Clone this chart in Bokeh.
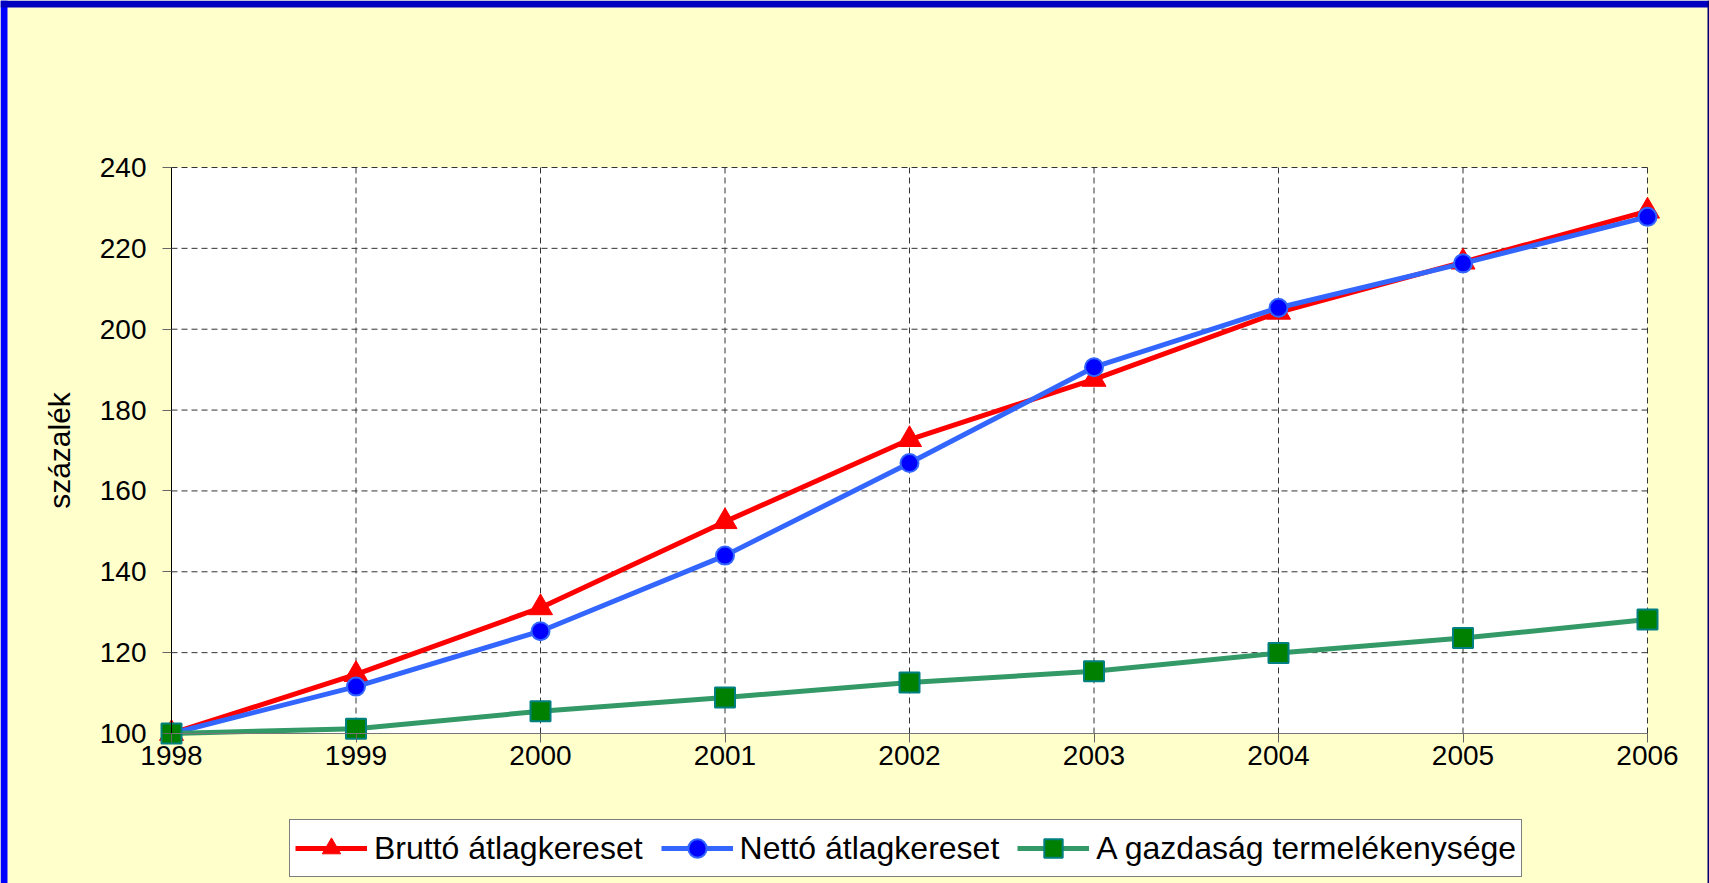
import math
from bokeh.plotting import figure
from bokeh.models import Legend, LegendItem, FixedTicker, Range1d, LinearAxis, BoxAnnotation, Label
from bokeh.embed import file_html
from bokeh.resources import INLINE

years = [1998, 1999, 2000, 2001, 2002, 2003, 2004, 2005, 2006]
brutto = [100, 114.6, 131.1, 152.4, 172.7, 187.6, 204.2, 216.6, 229.2]
netto = [100, 111.6, 125.3, 144.0, 166.9, 190.6, 205.3, 216.3, 227.8]
termelekenyseg = [100, 101.2, 105.5, 108.9, 112.6, 115.4, 119.9, 123.6, 128.2]
series_names = ["Bruttó átlagkereset", "Nettó átlagkereset", "A gazdaság termelékenysége"]
y_ticks = [100, 120, 140, 160, 180, 200, 220, 240]
y_label = "százalék"

FONT = "Liberation Sans"
BG = "#FFFFCC"

# layout in canvas pixels; the frame covers the whole canvas so nothing is clipped
W, H = 1709, 883
TOP, PLOT_BOTTOM, LEFT, RIGHT = 167, 733, 171, 1647
x0, x1 = years[0], years[-1]
y0, y1 = y_ticks[0], y_ticks[-1]
pxx = (RIGHT - LEFT) / (x1 - x0)
pxy = (PLOT_BOTTOM - TOP) / (y1 - y0)
x_start, x_end = x0 - LEFT / pxx, x1 + (W - RIGHT) / pxx
y_start, y_end = y0 - (H - PLOT_BOTTOM) / pxy, y1 + TOP / pxy

styles = [
    dict(line_color="#FF0000", marker="triangle", size=24, fill_color="#FF0000", mline="#FF0000", mlw=1),
    dict(line_color="#3366FF", marker="circle", size=18, fill_color="#0000FF", mline="#3366FF", mlw=2),
    dict(line_color="#339966", marker="square", size=20, fill_color="#008000", mline="#008080", mlw=2),
]

p = figure(width=W, height=H, output_backend="svg", toolbar_location=None,
           x_range=Range1d(x_start, x_end), y_range=Range1d(y_start, y_end),
           x_axis_location=None, y_axis_location=None,
           min_border_left=0, min_border_right=0, min_border_top=0, min_border_bottom=0)
p.border_fill_color = BG
p.background_fill_color = BG
p.outline_line_color = None
p.grid.visible = False

# white plot area
p.add_layout(BoxAnnotation(left=x0, right=x1, bottom=y0, top=y1,
                           fill_color="white", fill_alpha=1, line_color=None, level="underlay"))

# slide frame (blue edges)
p.add_layout(BoxAnnotation(left=x_start, right=x_start + 7 / pxx, bottom=y_start, top=y_end,
                           fill_color="#0000FF", fill_alpha=1, line_color=None))
p.add_layout(BoxAnnotation(left=x_start, right=x_end, bottom=y_end - 7 / pxy, top=y_end,
                           fill_color="#0000C0", fill_alpha=1, line_color=None))
p.add_layout(BoxAnnotation(left=x_end - 2 / pxx, right=x_end, bottom=y_start, top=y_end,
                           fill_color="#000070", fill_alpha=1, line_color=None))

# dashed grid lines limited to the plot area
grid_kw = dict(line_color="#333333", line_dash="6 4", line_width=1)
p.segment(x0=years, y0=[y0] * len(years), x1=years, y1=[y1] * len(years), **grid_kw)
p.segment(x0=[x0] * len(y_ticks), y0=y_ticks, x1=[x1] * len(y_ticks), y1=y_ticks, **grid_kw)

xaxis = LinearAxis(fixed_location=y0, ticker=FixedTicker(ticks=years), bounds=(x0, x1))
yaxis = LinearAxis(fixed_location=x0, ticker=FixedTicker(ticks=y_ticks), bounds=(y0, y1))
p.add_layout(xaxis, "below")
p.add_layout(yaxis, "left")

for ax in (xaxis, yaxis):
    ax.major_label_text_font = FONT
    ax.major_label_text_font_size = "28px"
    ax.major_label_text_color = "black"
    ax.minor_tick_line_color = None
    ax.major_tick_in = 0
    ax.major_tick_out = 9
    ax.major_tick_line_color = "#666666"

xaxis.axis_line_color = "#777777"
xaxis.major_label_standoff = 3
yaxis.axis_line_color = "black"
yaxis.major_label_standoff = 16

p.add_layout(Label(x=x_start + 59 / pxx, y=y_end - 450 / pxy, text=y_label, angle=math.pi / 2,
                   text_align="center", text_baseline="middle", text_font=FONT,
                   text_font_size="30px", text_color="black"))

items = []
for name, vals, st in zip(series_names, [brutto, netto, termelekenyseg], styles):
    rl = p.line(years, vals, line_color=st["line_color"], line_width=5)
    rm = p.scatter(years, vals, marker=st["marker"], size=st["size"], fill_color=st["fill_color"],
                   line_color=st["mline"], line_width=st["mlw"])
    items.append(LegendItem(label=name, renderers=[rl, rm]))

legend = Legend(items=items, orientation="horizontal", location=(289, 6))
legend.label_text_font = FONT
legend.label_text_font_size = "32px"
legend.label_text_color = "black"
legend.glyph_width = 72
legend.glyph_height = 46
legend.label_standoff = 7
legend.spacing = 18
legend.padding = 5
legend.margin = 0
legend.border_line_color = "black"
legend.border_line_width = 1
legend.background_fill_color = "white"
legend.background_fill_alpha = 1
p.add_layout(legend)

open("out.html", "w").write(file_html(p, INLINE))
